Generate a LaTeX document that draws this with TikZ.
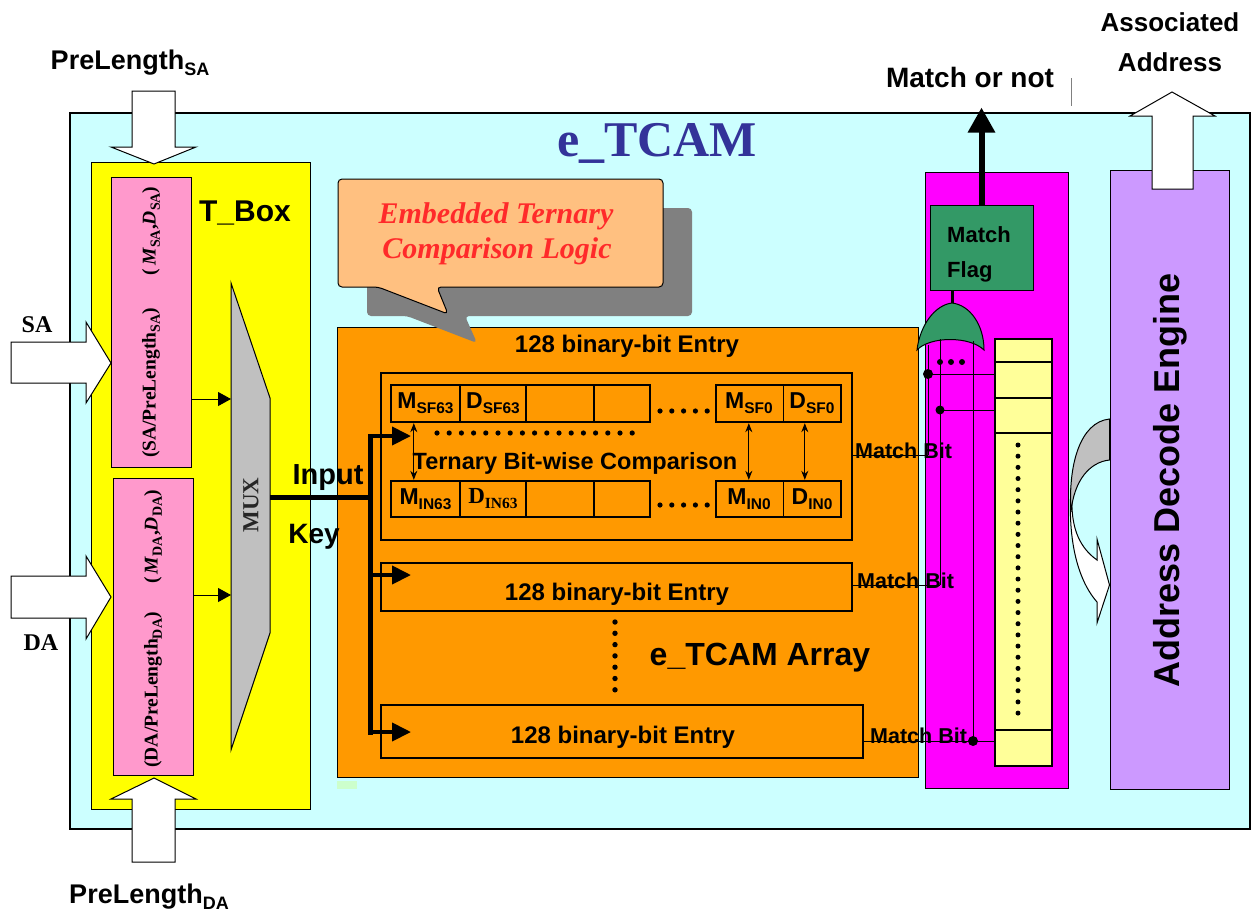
\documentclass[tikz,border=0pt]{standalone}
\usepackage{fontspec}
\usepackage{graphicx}
\setmainfont{Liberation Sans}
\newfontfamily\tms{Liberation Serif}
\usetikzlibrary{arrows.meta,fit,calc}
\newcommand{\fs}[1]{\fontsize{#1}{#1}\selectfont}
\newcommand{\lsub}[2]{\raisebox{-0.22em}{\fs{#1}#2}}
\definecolor{cyanbg}{HTML}{CCFFFF}
\definecolor{yel}{HTML}{FFFF00}
\definecolor{pinkc}{HTML}{FF99CC}
\definecolor{muxg}{HTML}{C0C0C0}
\definecolor{orng}{HTML}{FF9900}
\definecolor{bub}{HTML}{FFC080}
\definecolor{shad}{HTML}{808080}
\definecolor{mag}{HTML}{FF00FF}
\definecolor{grn}{HTML}{339966}
\definecolor{lyel}{HTML}{FFFF99}
\definecolor{lav}{HTML}{CC99FF}
\definecolor{tblue}{HTML}{333399}
\definecolor{redt}{HTML}{FF2A2A}
\definecolor{lgrn}{HTML}{CCFFCC}
\begin{document}
\begin{tikzpicture}[x=1pt,y=-1pt,
  box/.style={draw=black,line width=1pt,inner sep=0pt},
  cell/.style={draw=black,line width=2.4pt,inner sep=0pt},
  blockarrow/.style={draw=black,fill=white,line width=1pt,line join=miter},
  lbl/.style={inner sep=0pt,font=\bfseries},
  thinline/.style={draw=black,line width=1pt},
  busline/.style={draw=black,line width=5pt},
  busarrow/.style={draw=black,line width=4pt,-{Triangle[length=19pt,width=18pt]}},
  muxarrow/.style={draw=black,line width=1pt,-{Triangle[length=13pt,width=14pt]}},
  dblarrow/.style={draw=black,line width=1pt,{Stealth[length=9pt,width=7pt]}-{Stealth[length=9pt,width=7pt]}}
]
\useasboundingbox (0,0) rectangle (1253,914);
\fill[white] (0,0) rectangle (1253,914);

% outer e_TCAM
\node[box,fill=cyanbg,line width=1.3pt,fit={(70,113) (1250,829)}] (etcam) {};
% T_Box
\node[box,fill=yel,fit={(91,162) (310,809)}] (tbox) {};
\node[box,fill=pinkc,fit={(111,177) (191,467)}] (pinkSA) {};
\node[box,fill=pinkc,fit={(113,478) (193,775)}] (pinkDA) {};
% MUX
\draw[fill=muxg,line width=1pt] (231,283) -- (270,398) -- (270,633) -- (231,750) -- cycle;
\coordinate (muxin1) at (231,399);
\coordinate (muxin2) at (231,595);
\coordinate (muxout) at (270,497);
\draw[muxarrow] (pinkSA.east |- muxin1) -- (muxin1);
\draw[muxarrow] (pinkDA.east |- muxin2) -- (muxin2);
\node[rotate=90,inner sep=0pt,font=\tms\bfseries\fs{23},text=black!85] (mux) at (251,505) {MUX};
\node[lbl,font=\bfseries\fs{30}] (tboxl) at (245,213) {T\_Box};
\node[rotate=90,inner sep=0pt,font=\tms\bfseries\fs{19.5}] (saplen) at (151,383) {(SA/PreLength\lsub{14}{SA})};
\node[rotate=90,inner sep=0pt,font=\tms\bfseries\fs{19.5}] (samd) at (151,231) {(\,\textit{M}\lsub{14}{SA},\textit{D}\lsub{14}{SA})};
\node[rotate=90,inner sep=0pt,font=\tms\bfseries\fs{19.5}] (damd) at (153,537) {(\,\textit{M}\lsub{14}{DA},\textit{D}\lsub{14}{DA})};
\node[rotate=90,inner sep=0pt,font=\tms\bfseries\fs{19.5}] (daplen) at (153,690) {(DA/PreLength\lsub{14}{DA})};

% block arrows
\draw[blockarrow] (11,342) -- (86,342) -- (86,322) -- (111,363) -- (86,403) -- (86,383) -- (11,383) -- cycle;
\draw[blockarrow] (11,576) -- (86,576) -- (86,556) -- (111,597) -- (86,639) -- (86,618) -- (11,618) -- cycle;
\draw[blockarrow] (132,91) -- (175,91) -- (175,147) -- (196,147) -- (154,164) -- (111,147) -- (132,147) -- cycle;
\draw[blockarrow] (132,862) -- (175,862) -- (175,799) -- (196,799) -- (154,778) -- (111,799) -- (132,799) -- cycle;
\node[lbl,font=\tms\bfseries\fs{24}] (sa) at (37,325) {SA};
\node[lbl,font=\tms\bfseries\fs{24}] (da) at (41,643) {DA};
\node[lbl,font=\bfseries\fs{27}] (plsa) at (130,63) {PreLength\lsub{18}{SA}};
\node[lbl,font=\bfseries\fs{27}] (plda) at (149,897) {PreLength\lsub{18}{DA}};

% title
\node[lbl,font=\tms\bfseries\fs{50},text=tblue] (title) at (657,143) {e\_TCAM};

% orange array
\node[box,fill=orng,fit={(337,327) (918,777)}] (arr) {};
\fill[lgrn] (337,781) rectangle (357,789);

% speech bubble shadow and bubble
\fill[shad,rounded corners=4pt] (367,208) -- (692,208) -- (692,316) -- (465,316) -- (477,343) -- (407,316) -- (367,316) -- cycle;
\draw[fill=bub,line width=1pt,rounded corners=4pt] (338,179) -- (663,179) -- (663,287) -- (437,287) -- (448,314) -- (378,287) -- (338,287) -- cycle;
\node[inner sep=0pt,font=\tms\bfseries\itshape\fs{30},text=redt] (etcl1) at (496,216) {Embedded Ternary};
\node[inner sep=0pt,font=\tms\bfseries\itshape\fs{30},text=redt] (etcl2) at (497,251) {Comparison Logic};

\node[lbl,font=\bfseries\fs{24}] (topentry) at (627,346) {128 binary-bit Entry};

% entry 1
\node[cell,fit={(381,373) (852,540)}] (e1) {};
\node[cell,fit={(391,385) (460,422)}] (ms63) {};
\node[cell,fit={(460,385) (526,422)}] (ds63) {};
\node[cell,fit={(526,385) (594,422)}] (c3t) {};
\node[cell,fit={(594,385) (650,422)}] (c4t) {};
\node[cell,fit={(716,385) (841,422)}] (rt) {};
\node[cell,fit={(391,481) (460,517)}] (mi63) {};
\node[cell,fit={(460,481) (526,517)}] (di63) {};
\node[cell,fit={(526,481) (594,517)}] (c3b) {};
\node[cell,fit={(594,481) (650,517)}] (c4b) {};
\node[cell,fit={(716,481) (841,517)}] (rb) {};
\draw[thinline] (783,385) -- (783,422);
\draw[thinline] (783,481) -- (783,517);
\node[lbl,font=\bfseries\fs{23}] at (ms63) {M\lsub{15.5}{SF63}};
\node[lbl,font=\bfseries\fs{23}] at (ds63) {D\lsub{15.5}{SF63}};
\node[lbl,font=\bfseries\fs{23}] (msf0) at (749,403) {M\lsub{15.5}{SF0}};
\node[lbl,font=\bfseries\fs{23}] (dsf0) at (812,403) {D\lsub{15.5}{SF0}};
\node[lbl,font=\bfseries\fs{23}] at (mi63) {M\lsub{15.5}{IN63}};
\node[inner sep=0pt,font=\tms\bfseries\fs{23}] at (di63) {D\lsub{15.5}{IN63}};
\node[lbl,font=\bfseries\fs{23}] (min0) at (749,499) {M\lsub{15.5}{IN0}};
\node[lbl,font=\bfseries\fs{23}] (din0) at (812,499) {D\lsub{15.5}{IN0}};
\foreach \i in {0,...,4} {\fill (660+\i*11.8,411) circle (2.6); \fill (660+\i*11.8,505) circle (2.6);}
\foreach \i in {0,...,16} {\fill (437+\i*12.2,433) circle (2.6);}
\draw[dblarrow] ([xshift=24pt]ms63.south west) -- ([xshift=24pt]mi63.north west);
\draw[dblarrow] ([xshift=34pt]rt.south west) -- ([xshift=34pt]rb.north west);
\draw[dblarrow] ([xshift=90pt]rt.south west) -- ([xshift=90pt]rb.north west);
\node[lbl,font=\bfseries\fs{23.5}] (tbc) at (575,463) {Ternary Bit-wise Comparison};

% entry 2, 3
\node[cell,fit={(381,563) (852,611)}] (e2) {};
\node[lbl,font=\bfseries\fs{24}] at (617,594) {128 binary-bit Entry};
\node[cell,fit={(381,705) (863,758)}] (e3) {};
\node[lbl,font=\bfseries\fs{24}] at (623,737) {128 binary-bit Entry};
\foreach \i in {0,...,6} {\fill (615,622+\i*11.3) circle (2.7);}
\node[lbl,font=\bfseries\fs{32}] (arrl) at (760,658) {e\_TCAM Array};

% input key bus
\coordinate (bus1) at (370,436);
\coordinate (bus2) at (370,575);
\coordinate (bus3) at (370,732);
\draw[busline] (muxout) -- (muxout -| bus1);
\draw[busline,line cap=rect] (bus1) -- (bus3);
\draw[busarrow] (bus1) -- ++(41,0);
\draw[busarrow] (bus2) -- ++(41,0);
\draw[busarrow] (bus3) -- ++(41,0);
\node[lbl,font=\bfseries\fs{29}] (inp) at (328,478) {Input};
\node[lbl,font=\bfseries\fs{28}] (key) at (314,537) {Key};

% magenta region
\node[box,fill=mag,fit={(925,172) (1068,788)}] (mg) {};
\node[box,fill=grn,fit={(930,205) (1033,290)}] (flag) {};
\node[lbl,font=\bfseries\fs{22},anchor=west] at (947,235) {Match};
\node[lbl,font=\bfseries\fs{22},anchor=west] at (947,272) {Flag};
\draw[line width=6pt,-{Triangle[length=25pt,width=26pt]}] (flag.north) -- ++(0,-97);
\node[lbl,font=\bfseries\fs{28}] (mon) at (970,77) {Match or not};
\draw[gray,line width=1pt] (1071,78) -- (1071,106);
\coordinate (gtop) at (952,303);
\draw[line width=3pt] (flag.south -| gtop) -- (gtop);
\draw[fill=grn,line width=1pt] (gtop) .. controls (970,305) and (984,325) .. (984,350) .. controls (970,336) and (930,336) .. (917,350) .. controls (920,325) and (935,305) .. (gtop) -- cycle;
% yellow column
\node[cell,fill=lyel,fit={(995,339) (1052,766)}] (col) {};
\foreach \yy in {362,398,433,730} {\draw[line width=2.4pt] (col.west |- 0,\yy) -- (col.east |- 0,\yy);}
\foreach \i in {0,...,24} {\fill (1018,445+\i*11.17) circle (2.5);}
% match lines
\draw[thinline] (928,345) -- (928,455);
\draw[thinline] (940,339) -- (940,585);
\draw[thinline] (973,341) -- (973,741);
\draw[thinline] (928,374) -- (col.west |- 0,374);
\draw[thinline] (940,410) -- (col.west |- 0,410);
\draw[thinline] (973,741) -- (col.west |- 0,741);
\fill (928,374) circle (5); \fill (940,410) circle (4.5); \fill (973,741) circle (5);
\foreach \xx in {940,951,962} {\fill (\xx,362) circle (3);}
\draw[thinline] (e1.east |- 0,455) -- (928,455);
\draw[thinline] (e2.east |- 0,585) -- (940,585);
\draw[thinline] (e3.east |- 0,741) -- (973,741);
\node[lbl,font=\bfseries\fs{21.5},anchor=west] at (855,451) {Match Bit};
\node[lbl,font=\bfseries\fs{21.5},anchor=west] at (857,581) {Match Bit};
\node[lbl,font=\bfseries\fs{21.5},anchor=west] at (870,736) {Match Bit};

% address decode engine
\node[box,fill=lav,fit={(1110,170) (1229,789)}] (ade) {};
\node[rotate=90,lbl,font=\bfseries\fs{36}] (adel) at (1170,480) {Address Decode Engine};
\draw[blockarrow] (1152,189) -- (1193,189) -- (1193,116) -- (1215,116) -- (1172,92) -- (1130,116) -- (1152,116) -- cycle;
\node[lbl,font=\bfseries\fs{26}] (assoc1) at (1170,22) {Associated};
\node[lbl,font=\bfseries\fs{26}] (assoc2) at (1170,62) {Address};
% curved arrow
\draw[fill=white,line width=1pt] (1071,488) .. controls (1067,550) and (1082,585) .. (1097,602) -- (1097,623) -- (ade.west |- 0,585) -- (1097,539) -- (1097,560) .. controls (1080,548) and (1073,530) .. (1072,508) -- cycle;
\draw[fill=muxg,line width=1pt] (ade.west |- 0,419) .. controls (1080,422) and (1068,465) .. (1071,512) .. controls (1074,480) and (1090,462) .. (ade.west |- 0,460) -- cycle;
\end{tikzpicture}
\end{document}
